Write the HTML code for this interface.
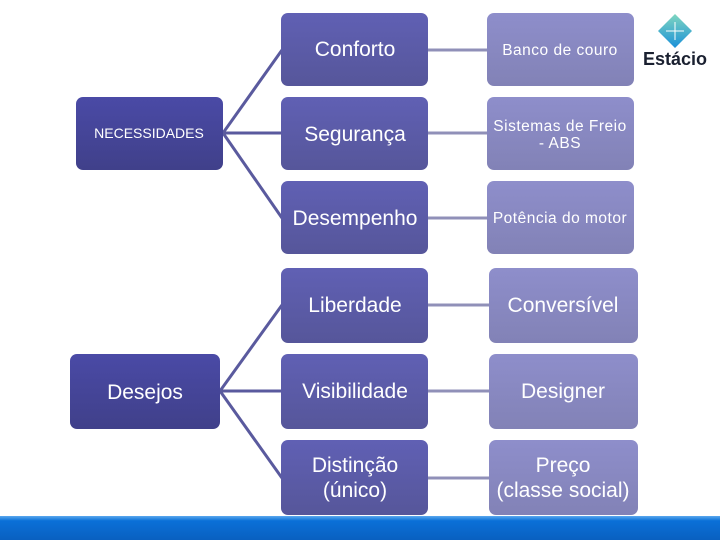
<!DOCTYPE html>
<html><head><meta charset="utf-8"><style>
html,body{margin:0;padding:0;background:#fff;width:720px;height:540px;overflow:hidden}
svg{display:block}
text{font-family:"Liberation Sans",sans-serif;fill:#fff}
</style></head><body>
<svg width="720" height="540" viewBox="0 0 720 540" xmlns="http://www.w3.org/2000/svg">
<defs>
<linearGradient id="gL" x1="0" y1="0" x2="0" y2="1"><stop offset="0" stop-color="#4a4aa6"/><stop offset="1" stop-color="#40408a"/></linearGradient>
<linearGradient id="gM" x1="0" y1="0" x2="0" y2="1"><stop offset="0" stop-color="#6060b4"/><stop offset="1" stop-color="#56569a"/></linearGradient>
<linearGradient id="gR" x1="0" y1="0" x2="0" y2="1"><stop offset="0" stop-color="#8e8ecb"/><stop offset="1" stop-color="#8282b6"/></linearGradient>
<linearGradient id="gB" x1="0" y1="0" x2="0" y2="1"><stop offset="0" stop-color="#5aa8ee"/><stop offset="0.2" stop-color="#0a70d8"/><stop offset="1" stop-color="#0960c0"/></linearGradient>
<linearGradient id="gLogo" x1="0" y1="0" x2="0" y2="1"><stop offset="0" stop-color="#7fd6c0"/><stop offset="1" stop-color="#1a90d8"/></linearGradient>
</defs>
<g stroke="#5a5a9e" stroke-width="3" fill="none">
<line x1="223" y1="133" x2="282" y2="50"/>
<line x1="223" y1="133" x2="282" y2="133"/>
<line x1="223" y1="133" x2="282" y2="218"/>
<line x1="220" y1="391" x2="282" y2="305"/>
<line x1="220" y1="391" x2="282" y2="391"/>
<line x1="220" y1="391" x2="282" y2="478"/>
</g>
<g stroke="#9090b8" stroke-width="3">
<line x1="428" y1="50" x2="488" y2="50"/>
<line x1="428" y1="133" x2="488" y2="133"/>
<line x1="428" y1="218" x2="488" y2="218"/>
<line x1="428" y1="305" x2="490" y2="305"/>
<line x1="428" y1="391" x2="490" y2="391"/>
<line x1="428" y1="478" x2="490" y2="478"/>
</g>
<rect x="76" y="97" width="147" height="73" rx="7" fill="url(#gL)"/>
<text x="149" y="138" font-size="14" text-anchor="middle">NECESSIDADES</text>
<rect x="70" y="354" width="150" height="75" rx="7" fill="url(#gL)"/>
<text x="145" y="399" font-size="21" text-anchor="middle">Desejos</text>
<g fill="url(#gM)">
<rect x="281" y="13" width="147" height="73" rx="7"/>
<rect x="281" y="97" width="147" height="73" rx="7"/>
<rect x="281" y="181" width="147" height="73" rx="7"/>
<rect x="281" y="268" width="147" height="75" rx="7"/>
<rect x="281" y="354" width="147" height="75" rx="7"/>
<rect x="281" y="440" width="147" height="75" rx="7"/>
</g>
<g font-size="21" text-anchor="middle">
<text x="355" y="56">Conforto</text>
<text x="355" y="141">Segurança</text>
<text x="355" y="225">Desempenho</text>
<text x="355" y="312">Liberdade</text>
<text x="355" y="398">Visibilidade</text>
<text x="355" y="472">Distinção</text>
<text x="355" y="497">(único)</text>
</g>
<g fill="url(#gR)">
<rect x="487" y="13" width="147" height="73" rx="7"/>
<rect x="487" y="97" width="147" height="73" rx="7"/>
<rect x="487" y="181" width="147" height="73" rx="7"/>
<rect x="489" y="268" width="149" height="75" rx="7"/>
<rect x="489" y="354" width="149" height="75" rx="7"/>
<rect x="489" y="440" width="149" height="75" rx="7"/>
</g>
<g font-size="15.5" text-anchor="middle" letter-spacing="0.5">
<text x="560" y="55">Banco de couro</text>
<text x="560" y="131">Sistemas de Freio</text>
<text x="560" y="148">- ABS</text>
<text x="560" y="223">Potência do motor</text>
</g>
<g font-size="21" text-anchor="middle">
<text x="563" y="312">Conversível</text>
<text x="563" y="398">Designer</text>
<text x="563" y="472">Preço</text>
<text x="563" y="497">(classe social)</text>
</g>
<polygon points="675,14 692,31 675,48 658,31" fill="url(#gLogo)"/>
<g stroke="#fff" stroke-width="1"><line x1="666" y1="31" x2="684" y2="31"/><line x1="675" y1="22" x2="675" y2="40"/></g>
<text x="675" y="65" font-size="18" font-weight="bold" text-anchor="middle" style="fill:#1a2030">Estácio</text>
<rect x="0" y="516" width="720" height="24" fill="url(#gB)"/>
</svg>
</body></html>
